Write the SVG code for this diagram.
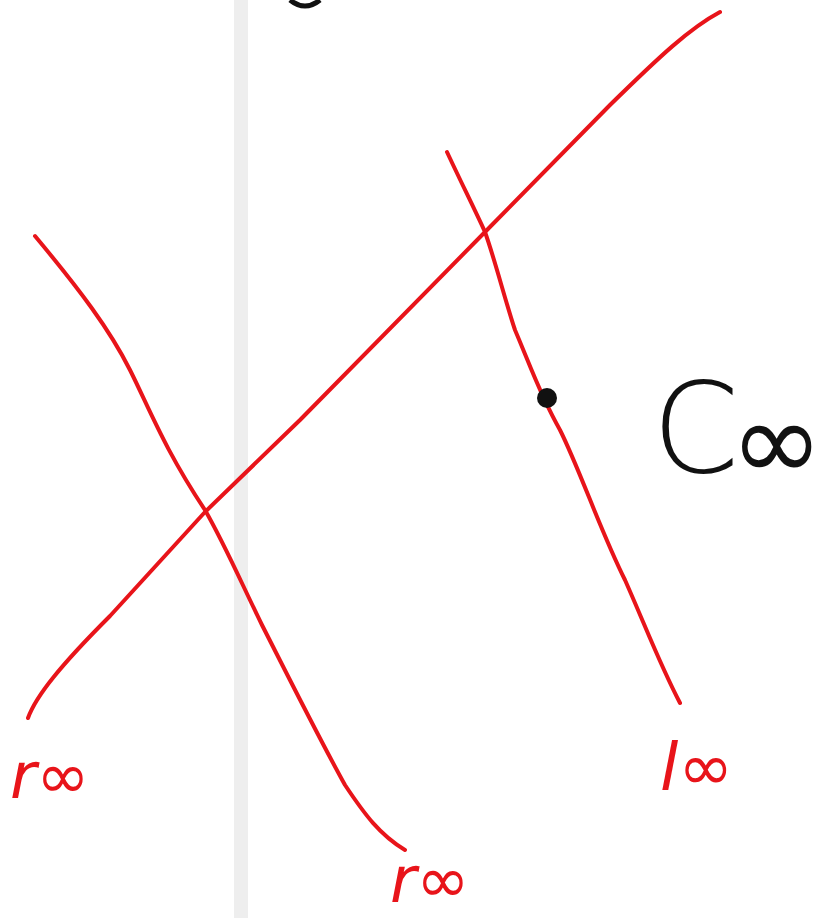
<svg xmlns="http://www.w3.org/2000/svg" width="837" height="918" viewBox="0 0 837 918">
<style>
.ln{fill:none;stroke:#e8141a;stroke-width:4;stroke-linecap:round;stroke-linejoin:round}
.lb{font-family:"DejaVu Sans","Liberation Sans",sans-serif;fill:#e8141a;font-style:italic}
.bk{font-family:"DejaVu Sans","Liberation Sans",sans-serif;fill:#111}
</style>
<rect width="837" height="918" fill="#ffffff"/>
<rect x="234" y="0" width="14" height="918" fill="#eeeeee"/>
<path d="M290,0 Q305,12 320,0" fill="none" stroke="#111" stroke-width="5"/>
<g id="connectors">
<path id="lineA" class="ln" d="M28,718 C36,696 60,666 110,616 L205,512 L300,420 L485,232 L610,105 C660,56 690,28 720,12"/>
<path id="lineB" class="ln" d="M35,236 C80,290 110,330 130,370 C150,410 165,450 205,510 C225,545 240,580 262,625 C290,680 320,740 345,785 C365,815 380,835 405,850"/>
<path id="lineC" class="ln" d="M447,152 C460,180 475,210 485,232 C495,260 505,300 515,330 C530,365 540,395 560,430 C580,470 600,530 625,580 C645,625 660,665 680,703"/>
</g>
<g id="point">
<circle cx="547" cy="398" r="10" fill="#111"/>
</g>
<g id="label-r1"><text class="lb" x="10" y="798" font-size="64">r∞</text></g>
<g id="label-r2"><text class="lb" x="390" y="902" font-size="64">r∞</text></g>
<g id="label-l"><text class="lb" x="660" y="790" font-size="66">l∞</text></g>
<g id="label-C">
<text class="bk" x="652" y="472" font-size="125" font-weight="300">C</text>
<text class="bk" x="730" y="480" font-size="112">∞</text>
</g>
</svg>
